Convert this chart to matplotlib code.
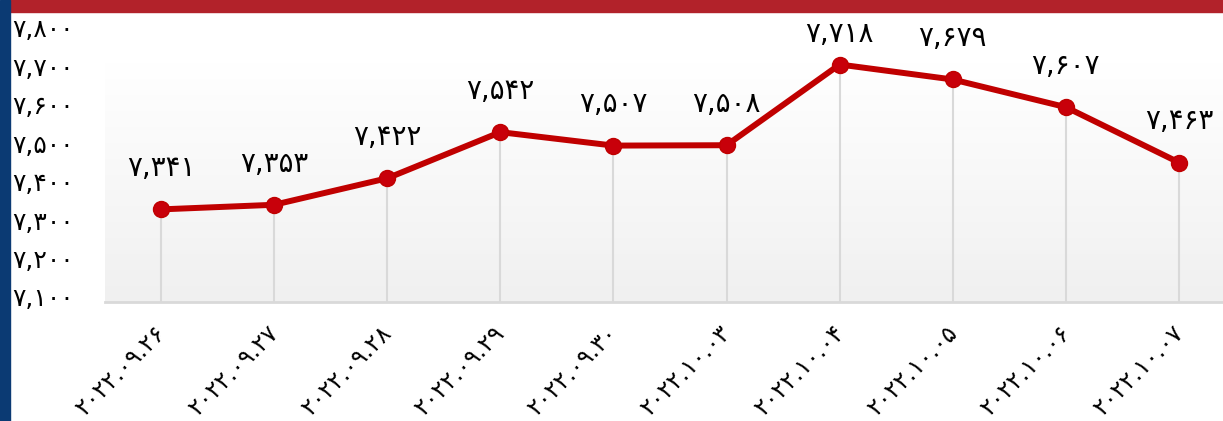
import numpy as np
import matplotlib
matplotlib.use("Agg")
from matplotlib import pyplot as plt
from matplotlib.patches import Rectangle
from matplotlib.transforms import ScaledTranslation

# Data (Persian digits as in the source chart)
dates = ["۲۰۲۲.۰۹.۲۶", "۲۰۲۲.۰۹.۲۷", "۲۰۲۲.۰۹.۲۸", "۲۰۲۲.۰۹.۲۹", "۲۰۲۲.۰۹.۳۰",
         "۲۰۲۲.۱۰.۰۳", "۲۰۲۲.۱۰.۰۴", "۲۰۲۲.۱۰.۰۵", "۲۰۲۲.۱۰.۰۶", "۲۰۲۲.۱۰.۰۷"]
values = [7341, 7353, 7422, 7542, 7507, 7508, 7718, 7679, 7607, 7463]
y_ticks = [7100, 7200, 7300, 7400, 7500, 7600, 7700, 7800]

FA_DIGITS = str.maketrans("0123456789", "۰۱۲۳۴۵۶۷۸۹")

def fa(n):
    return "{:,}".format(n).translate(FA_DIGITS)

plt.rcParams['font.family'] = ['DejaVu Sans']

W, H = 1223, 421
fig = plt.figure(figsize=(W / 100, H / 100), dpi=100)

# decorative frame: red bar on top, blue stripe at left
fig.patches.append(Rectangle((10 / W, 1 - 11.5 / H), 1, 11.5 / H, transform=fig.transFigure,
                             color="#b2222a", zorder=0))
fig.patches.append(Rectangle((0, 0), 10 / W, 1, transform=fig.transFigure,
                             color="#0b3a73", zorder=0))

left, right = 104.5 / W, 1.0
bottom, top = 1 - 302 / H, 1 - 33 / H
ax = fig.add_axes([left, bottom, right - left, top - bottom])
ax.patch.set_alpha(0)

x = np.arange(len(values))
xmax = 9 + 44 / 113.1
ax.set_xlim(-0.5, xmax)
ax.set_ylim(7100, 7800)

# gradient background (white at top -> light grey at bottom)
grad = np.linspace(0, 1, 256).reshape(-1, 1)
ax.imshow(grad, extent=[-0.5, xmax, 7100, 7720], aspect="auto",
          cmap=matplotlib.colors.LinearSegmentedColormap.from_list("g", ["#f0f0f0", "#ffffff"]),
          origin="lower", zorder=0)

# drop lines
ax.vlines(x, 7100, values, color="#d9d9d9", lw=1.5, zorder=1)
ax.plot(x, values, color="#c00000", lw=4.3, marker="o", markersize=11.5,
        markerfacecolor="#c8000a", markeredgecolor="#c00000", zorder=3)

for xi, v in zip(x, values):
    ly = min(v + 107, 7797)
    ax.text(xi, ly, fa(v), ha="center", va="center", fontsize=20, color="black",
            clip_on=False, zorder=4)

ax.set_yticks(y_ticks)
ax.set_yticklabels([fa(t) for t in y_ticks], fontsize=18)
ax.set_xticks(x)
ax.set_xticklabels(dates, rotation=45, ha="right", va="top", rotation_mode="anchor",
                   fontsize=17)
ax.tick_params(axis="y", length=0, pad=22)
ax.tick_params(axis="x", length=0, pad=14)

# nudge tick labels to where the original sits them
shift = ScaledTranslation(-8 / 100, 0, fig.dpi_scale_trans)
for lbl in ax.get_xticklabels():
    lbl.set_transform(lbl.get_transform() + shift)
up = ScaledTranslation(0, 5 / 100, fig.dpi_scale_trans)
for lbl in ax.get_yticklabels():
    lbl.set_transform(lbl.get_transform() + up)

for s in ["left", "right", "top"]:
    ax.spines[s].set_visible(False)
ax.spines["bottom"].set_color("#d9d9d9")
ax.spines["bottom"].set_linewidth(2)

fig.savefig("out.png", dpi=100)
